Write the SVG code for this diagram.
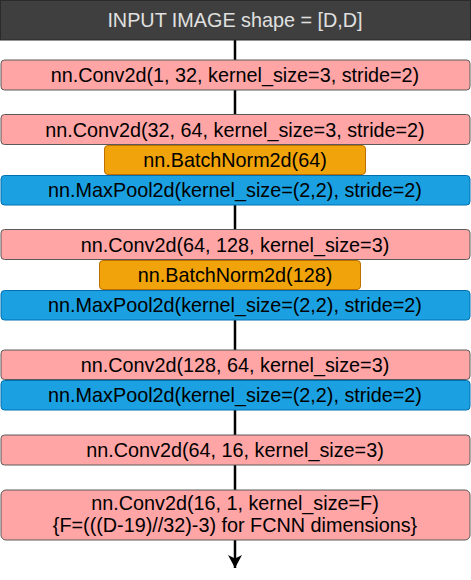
<svg xmlns="http://www.w3.org/2000/svg" width="471" height="580" viewBox="0 0 471 580">
<style>
text{font-family:"Liberation Sans",Arial,sans-serif;font-size:19.8px;text-anchor:middle;fill:#000}
.conv{fill:#ffa5a5;stroke:#5a5a5a;stroke-width:1}
.bn{fill:#f0a30a;stroke:#bd7000;stroke-width:1}
.mp{fill:#1ba1e2;stroke:#006eaf;stroke-width:1}
.edge{stroke:#000;stroke-width:2.5;fill:none}
</style>
<defs>
<marker id="arr" markerUnits="userSpaceOnUse" markerWidth="16" markerHeight="16" refX="13" refY="7" orient="auto">
<path d="M0,0 L13,7 L0,14 L3.5,7 Z" fill="#000"/>
</marker>
</defs>
<g id="connectors">
<line class="edge" x1="235" y1="40" x2="235" y2="60"/>
<line class="edge" x1="235" y1="90" x2="235" y2="114"/>
<line class="edge" x1="235" y1="205" x2="235" y2="230"/>
<line class="edge" x1="235" y1="320" x2="235" y2="350"/>
<line class="edge" x1="235" y1="410" x2="235" y2="435"/>
<line class="edge" x1="235" y1="465" x2="235" y2="490"/>
<line class="edge" x1="235" y1="540" x2="235" y2="568" marker-end="url(#arr)"/>
</g>
<g id="input">
<rect x="0.5" y="0.5" width="470" height="39.5" fill="#3f3f3f" stroke="#2a2a2a"/>
<text x="235" y="27" style="fill:#e0e0e0">INPUT IMAGE shape = [D,D]</text>
</g>
<g id="conv1">
<rect class="conv" x="1" y="60" width="469" height="30" rx="3.5"/>
<text x="235" y="82">nn.Conv2d(1, 32, kernel_size=3, stride=2)</text>
</g>
<g id="conv2">
<rect class="conv" x="1" y="114.5" width="469" height="30" rx="3.5"/>
<text x="235" y="136.5">nn.Conv2d(32, 64, kernel_size=3, stride=2)</text>
</g>
<g id="bn1">
<rect class="bn" x="104.5" y="145.5" width="261" height="29" rx="3.5"/>
<text x="235" y="167">nn.BatchNorm2d(64)</text>
</g>
<g id="mp1">
<rect class="mp" x="1" y="175.5" width="469" height="29.5" rx="3.5"/>
<text x="235" y="197">nn.MaxPool2d(kernel_size=(2,2), stride=2)</text>
</g>
<g id="conv3">
<rect class="conv" x="1" y="229.5" width="469" height="30" rx="3.5"/>
<text x="235" y="251.5">nn.Conv2d(64, 128, kernel_size=3)</text>
</g>
<g id="bn2">
<rect class="bn" x="99.5" y="260.5" width="261" height="29" rx="3.5"/>
<text x="235" y="282">nn.BatchNorm2d(128)</text>
</g>
<g id="mp2">
<rect class="mp" x="1" y="290.5" width="469" height="29.5" rx="3.5"/>
<text x="235" y="312">nn.MaxPool2d(kernel_size=(2,2), stride=2)</text>
</g>
<g id="conv4">
<rect class="conv" x="1" y="350" width="469" height="29.5" rx="3.5"/>
<text x="235" y="372">nn.Conv2d(128, 64, kernel_size=3)</text>
</g>
<g id="mp3">
<rect class="mp" x="1" y="380.5" width="469" height="29.5" rx="3.5"/>
<text x="235" y="402">nn.MaxPool2d(kernel_size=(2,2), stride=2)</text>
</g>
<g id="conv5">
<rect class="conv" x="1" y="435" width="469" height="30" rx="3.5"/>
<text x="235" y="457">nn.Conv2d(64, 16, kernel_size=3)</text>
</g>
<g id="conv6">
<rect class="conv" x="1" y="490" width="469" height="50" rx="5"/>
<text x="235" y="510">nn.Conv2d(16, 1, kernel_size=F)</text>
<text x="235" y="532">{F=(((D-19)//32)-3) for FCNN dimensions}</text>
</g>
</svg>
